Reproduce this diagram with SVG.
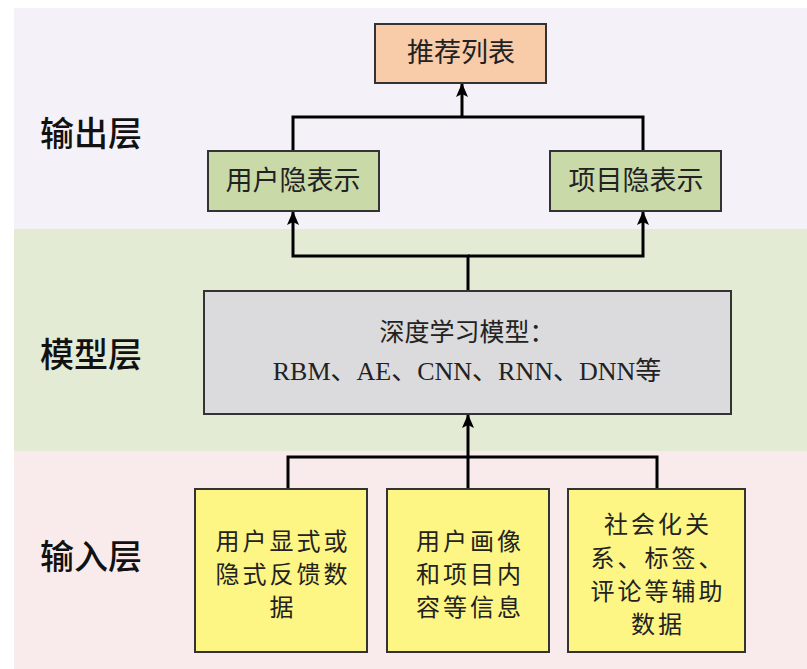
<svg xmlns="http://www.w3.org/2000/svg" width="807" height="669" viewBox="0 0 807 669">
  <defs>
    <marker id="arr" markerWidth="14" markerHeight="12" refX="13" refY="6" orient="auto" markerUnits="userSpaceOnUse" viewBox="0 0 14 12">
      <path d="M0,0 L14,6 L0,12 L3,6 Z" fill="#000"/>
    </marker>
    <style>
      .box { stroke: #333; stroke-width: 2; }
      .conn { fill: none; stroke: #000; stroke-width: 3; }
      .serif { font-family: "Liberation Serif", "Noto Sans CJK SC", serif; fill: #222; text-anchor: middle; dominant-baseline: central; }
      .sans { font-family: "Noto Sans CJK SC", "Noto Sans", sans-serif; fill: #222; text-anchor: middle; dominant-baseline: central; font-size: 24px; letter-spacing: 3px; }
      .layer { font-family: "Noto Sans CJK SC", "Noto Sans", sans-serif; fill: #111; font-size: 34px; dominant-baseline: central; font-weight: 500; }
    </style>
  </defs>
  <rect width="807" height="669" fill="#ffffff"/>
  <g id="bands">
    <rect x="14" y="8" width="793" height="221" fill="#f4f2f8"/>
    <rect x="14" y="229" width="793" height="222" fill="#e3ebd5"/>
    <rect x="14" y="451" width="793" height="218" fill="#f9ebec"/>
  </g>
  <g id="layer-labels">
    <text class="layer" x="40" y="131">输出层</text>
    <text class="layer" x="40" y="352">模型层</text>
    <text class="layer" x="40" y="554">输入层</text>
  </g>
  <g id="connectors">
    <path class="conn" d="M293,151 V117 H643 V151"/>
    <path class="conn" d="M462,117 V84" marker-end="url(#arr)"/>
    <path class="conn" d="M468,291 V256 H293 V212" marker-end="url(#arr)"/>
    <path class="conn" d="M468,256 H643 V212" marker-end="url(#arr)"/>
    <path class="conn" d="M288,489 V457 H657 V489"/>
    <path class="conn" d="M468,489 V415" marker-end="url(#arr)"/>
  </g>
  <g id="n-recommend">
    <rect class="box" x="375" y="24" width="171" height="59" fill="#f8cba9"/>
    <text class="serif" x="461" y="53" font-size="27">推荐列表</text>
  </g>
  <g id="n-user-latent">
    <rect class="box" x="208" y="151" width="171" height="60" fill="#c9daa8"/>
    <text class="serif" x="293" y="181" font-size="27">用户隐表示</text>
  </g>
  <g id="n-item-latent">
    <rect class="box" x="550" y="151" width="171" height="60" fill="#c9daa8"/>
    <text class="serif" x="636" y="181" font-size="27">项目隐表示</text>
  </g>
  <g id="n-model">
    <rect class="box" x="204" y="291" width="527" height="123" fill="#dbdadc"/>
    <text class="serif" x="467" y="332" font-size="25">深度学习模型：</text>
    <text class="serif" x="467" y="371" font-size="26">RBM、AE、CNN、RNN、DNN等</text>
  </g>
  <g id="n-input1">
    <rect class="box" x="195" y="489" width="172" height="163" fill="#fdf584"/>
    <text class="sans" x="283" y="539">用户显式或</text>
    <text class="sans" x="283" y="572">隐式反馈数</text>
    <text class="sans" x="283" y="605">据</text>
  </g>
  <g id="n-input2">
    <rect class="box" x="387" y="489" width="162" height="163" fill="#fdf584"/>
    <text class="sans" x="470" y="539">用户画像</text>
    <text class="sans" x="470" y="572">和项目内</text>
    <text class="sans" x="470" y="605">容等信息</text>
  </g>
  <g id="n-input3">
    <rect class="box" x="568" y="489" width="177" height="163" fill="#fdf584"/>
    <text class="sans" x="658" y="522">社会化关</text>
    <text class="sans" x="658" y="556">系、标签、</text>
    <text class="sans" x="658" y="589">评论等辅助</text>
    <text class="sans" x="658" y="622">数据</text>
  </g>
</svg>
